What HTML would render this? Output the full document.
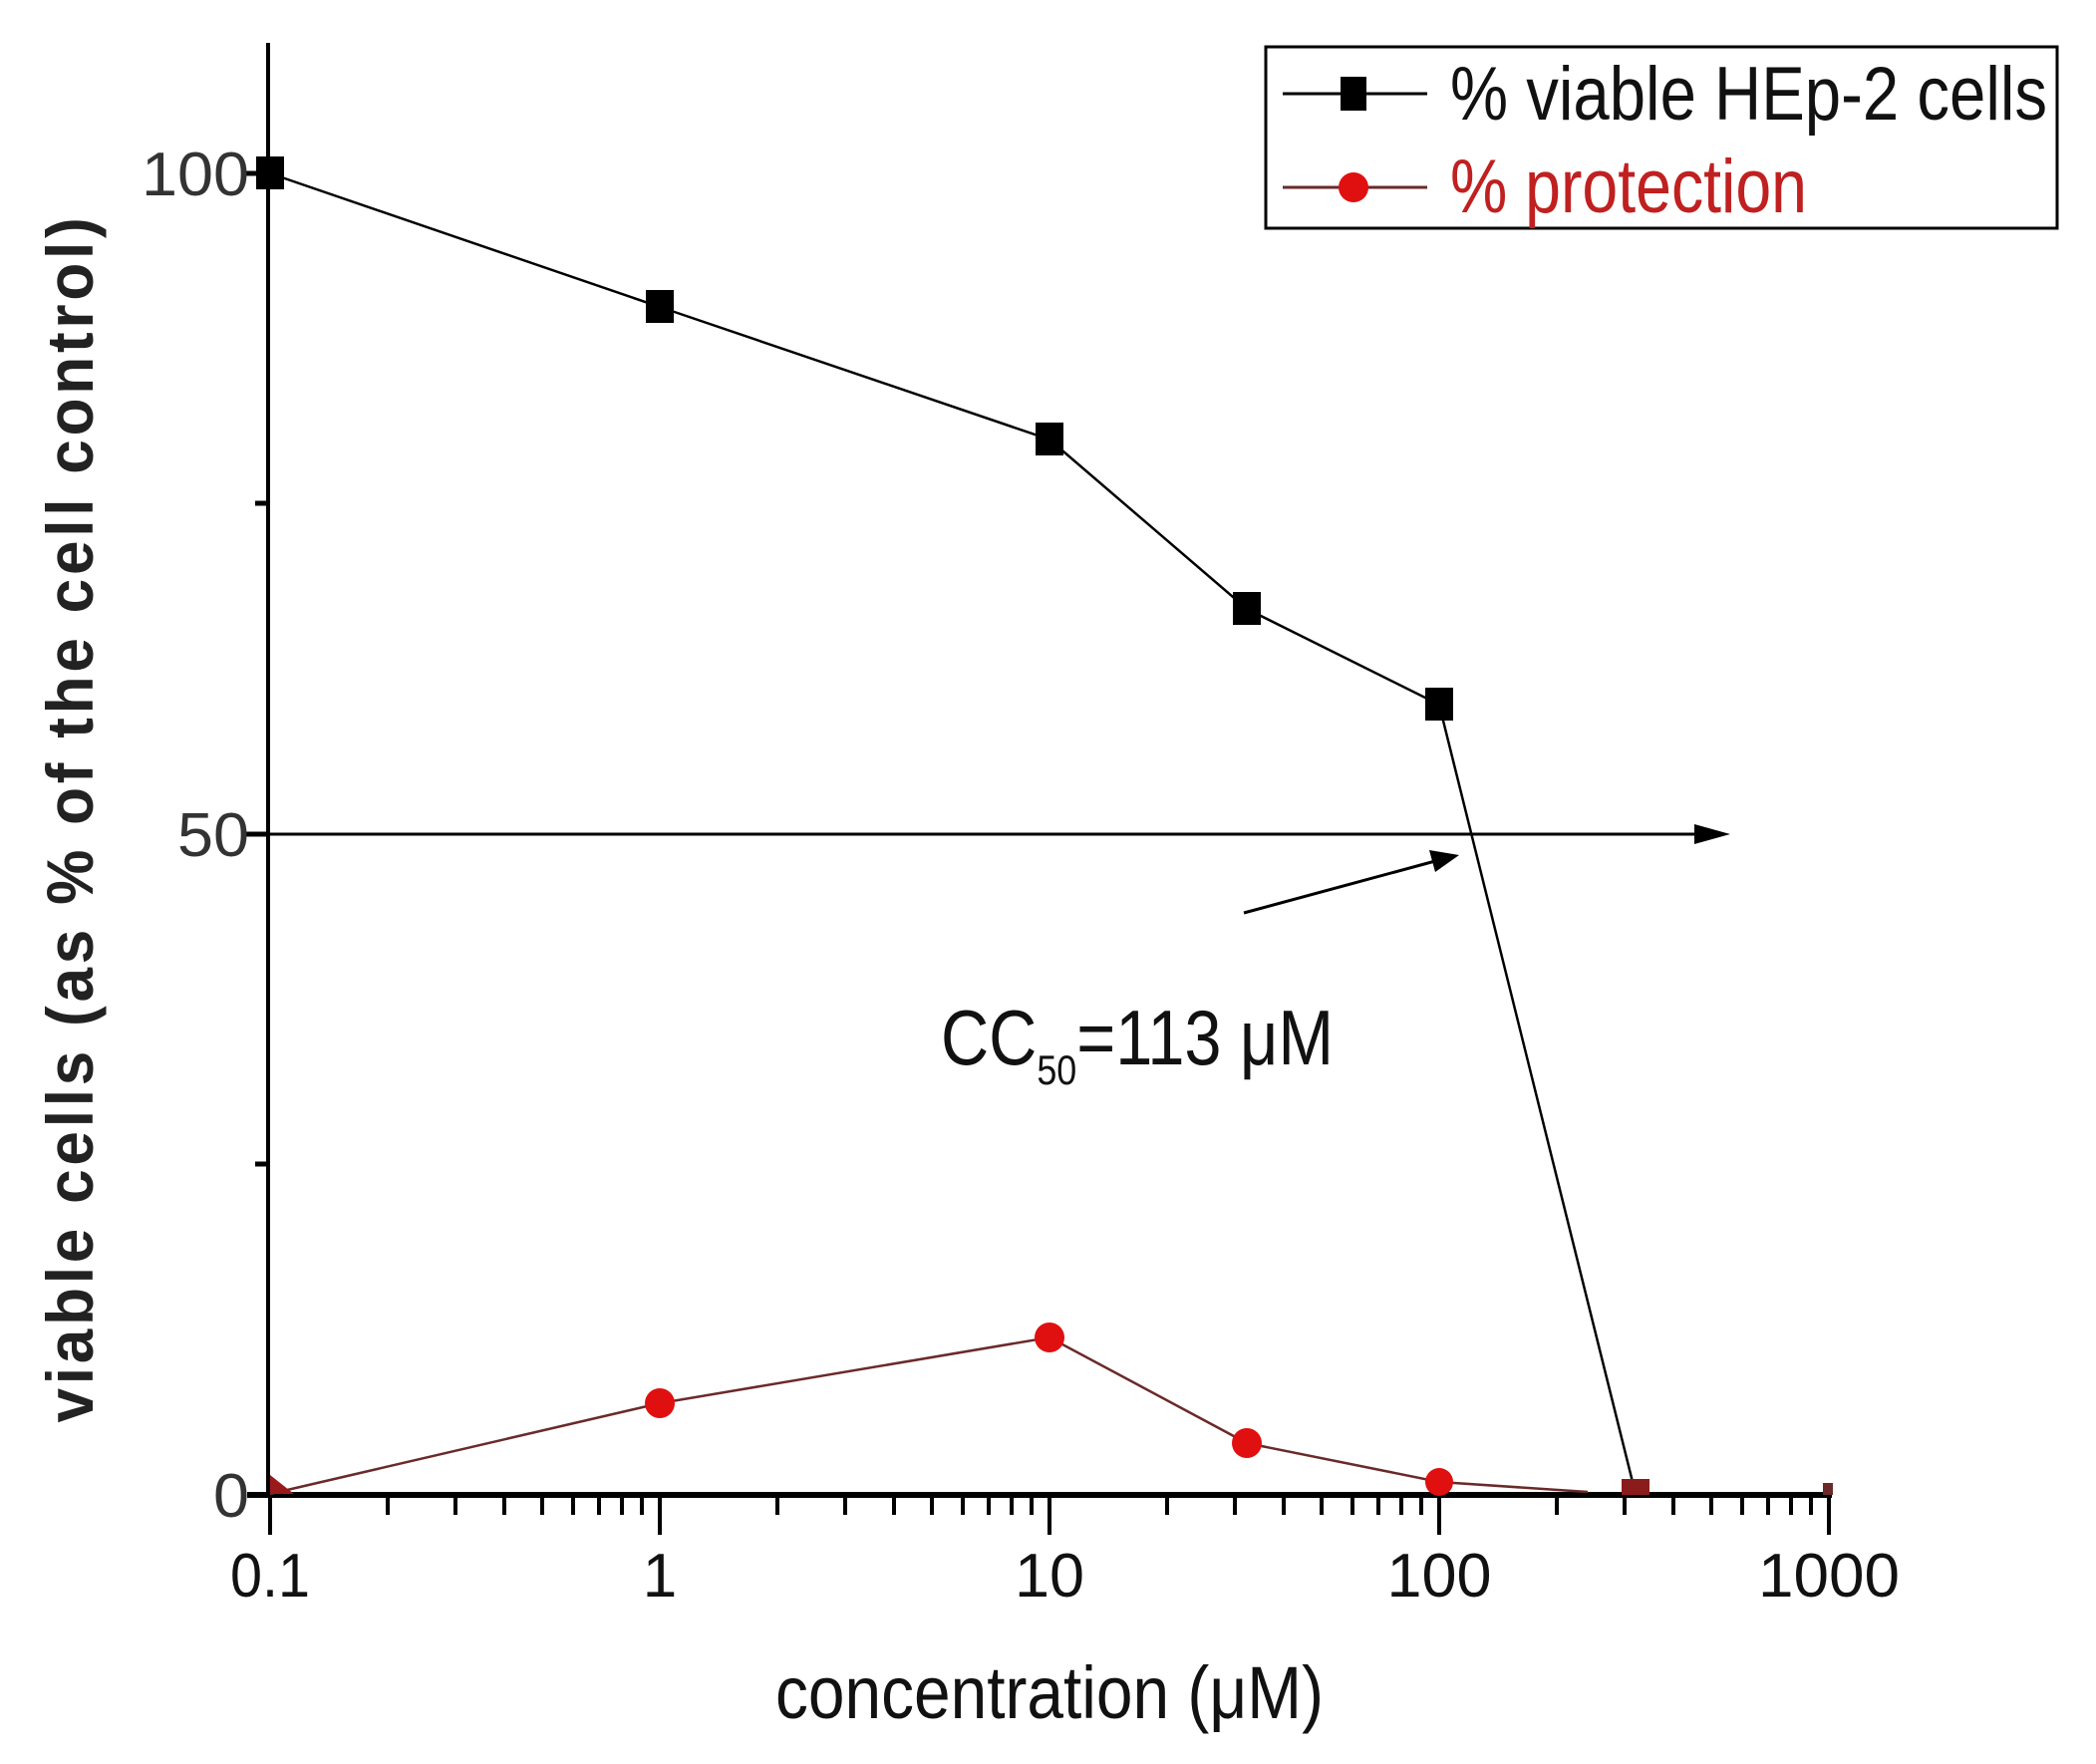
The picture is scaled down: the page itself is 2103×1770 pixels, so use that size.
<!DOCTYPE html>
<html><head><meta charset="utf-8"><style>html,body{margin:0;padding:0;background:#fff}svg{display:block}</style></head>
<body>
<svg width="2103" height="1770" viewBox="0 0 2103 1770" xmlns="http://www.w3.org/2000/svg" font-family="'Liberation Sans', sans-serif">
<rect width="2103" height="1770" fill="#fff"/>
<!-- axes -->
<line x1="269" y1="43" x2="269" y2="1502" stroke="#000" stroke-width="4"/>
<line x1="248" y1="1500" x2="1838" y2="1500" stroke="#000" stroke-width="6"/>
<!-- y ticks -->
<g stroke="#000" stroke-width="5">
<line x1="246" y1="174" x2="269" y2="174"/>
<line x1="246" y1="837" x2="269" y2="837"/>
<line x1="256" y1="505" x2="269" y2="505"/>
<line x1="256" y1="1168" x2="269" y2="1168"/>
</g>
<g fill="#333" font-size="62" text-anchor="end">
<text x="250" y="196" textLength="108" lengthAdjust="spacingAndGlyphs">100</text>
<text x="250" y="859" textLength="72" lengthAdjust="spacingAndGlyphs">50</text>
<text x="250" y="1522" textLength="36" lengthAdjust="spacingAndGlyphs">0</text>
</g>
<!-- x ticks -->
<g stroke="#000" stroke-width="4">
<line x1="271" y1="1500" x2="271" y2="1540"/>
<line x1="662" y1="1500" x2="662" y2="1540"/>
<line x1="1053" y1="1500" x2="1053" y2="1540"/>
<line x1="1444" y1="1500" x2="1444" y2="1540"/>
<line x1="1835" y1="1500" x2="1835" y2="1540"/>
<path d="M389 1500v20M457 1500v20M506 1500v20M544 1500v20M575 1500v20M601 1500v20M624 1500v20M644 1500v20
M780 1500v20M848 1500v20M897 1500v20M935 1500v20M966 1500v20M992 1500v20M1015 1500v20M1035 1500v20
M1171 1500v20M1239 1500v20M1288 1500v20M1326 1500v20M1357 1500v20M1383 1500v20M1406 1500v20M1426 1500v20
M1562 1500v20M1630 1500v20M1679 1500v20M1717 1500v20M1748 1500v20M1774 1500v20M1797 1500v20M1817 1500v20"/>
</g>
<g fill="#111" font-size="62" text-anchor="middle">
<text x="271" y="1602" textLength="80" lengthAdjust="spacingAndGlyphs">0.1</text>
<text x="662" y="1602">1</text>
<text x="1053" y="1602" textLength="70" lengthAdjust="spacingAndGlyphs">10</text>
<text x="1444" y="1602" textLength="105" lengthAdjust="spacingAndGlyphs">100</text>
<text x="1835" y="1602" textLength="142" lengthAdjust="spacingAndGlyphs">1000</text>
</g>
<text x="1053" y="1724" font-size="74" text-anchor="middle" fill="#111" textLength="550" lengthAdjust="spacingAndGlyphs">concentration (μM)</text>
<text transform="translate(93,821) rotate(-90)" font-size="66" font-weight="bold" text-anchor="middle" fill="#222" textLength="1213" lengthAdjust="spacingAndGlyphs" letter-spacing="4">viable cells (as % of the cell control)</text>
<!-- 50 line + arrows -->
<line x1="269" y1="837" x2="1712" y2="837" stroke="#000" stroke-width="3"/>
<polygon points="1736,837 1700,827 1700,847" fill="#000"/>
<line x1="1248" y1="916" x2="1440" y2="864" stroke="#000" stroke-width="3"/>
<polygon points="1464,858 1434,853 1440,875" fill="#000"/>
<text x="944" y="1068" font-size="78" fill="#111" textLength="394" lengthAdjust="spacingAndGlyphs">CC<tspan font-size="42" dy="20">50</tspan><tspan dy="-20">=113 μM</tspan></text>
<!-- red series -->
<polyline points="271,1499 662,1408 1053,1342 1251,1448 1444,1487 1593,1497" fill="none" stroke="#6a2a2a" stroke-width="2.5"/>
<g fill="#e01010">
<circle cx="662" cy="1408" r="15"/>
<circle cx="1053" cy="1342" r="15"/>
<circle cx="1251" cy="1448" r="15"/>
<circle cx="1444" cy="1487" r="14"/>
</g>
<path d="M271 1480 L295 1499 L271 1499Z" fill="#9a1a1a"/>
<!-- black series -->
<polyline points="271,174 662,308 1053,441 1251,611 1444,707 1641,1499" fill="none" stroke="#000" stroke-width="2.5"/>
<g fill="#000">
<rect x="257" y="157" width="28" height="33"/>
<rect x="648" y="291" width="28" height="33"/>
<rect x="1039" y="424" width="28" height="33"/>
<rect x="1237" y="594" width="28" height="33"/>
<rect x="1430" y="690" width="28" height="33"/>
</g>
<rect x="1627" y="1484" width="28" height="16" fill="#8a1c1c"/>
<rect x="1829" y="1488" width="10" height="12" fill="#6a2a2a"/>
<!-- legend -->
<rect x="1270" y="47" width="794" height="182" fill="#fff" stroke="#000" stroke-width="3"/>
<line x1="1287" y1="94" x2="1432" y2="94" stroke="#000" stroke-width="3"/>
<rect x="1345" y="77" width="26" height="34" fill="#000"/>
<text x="1455" y="120" font-size="76" fill="#111" textLength="599" lengthAdjust="spacingAndGlyphs">% viable HEp-2 cells</text>
<line x1="1287" y1="188" x2="1432" y2="188" stroke="#6a2a2a" stroke-width="3"/>
<circle cx="1358" cy="188" r="15" fill="#e01010"/>
<text x="1455" y="213" font-size="76" fill="#c02020" textLength="358" lengthAdjust="spacingAndGlyphs">% protection</text>
</svg>
</body></html>
